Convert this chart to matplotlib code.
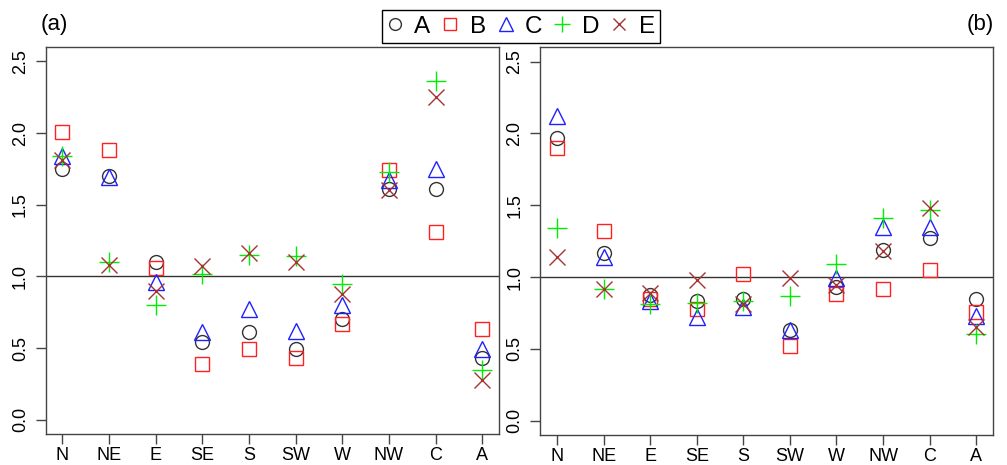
import numpy as np
import matplotlib
matplotlib.use("Agg")
import matplotlib.pyplot as plt

plt.rcParams["font.family"] = ["Liberation Sans", "DejaVu Sans"]

sites = ["N", "NE", "E", "SE", "S", "SW", "W", "NW", "C", "A"]
series = ["A", "B", "C", "D", "E"]

# panel (a)
a_A = [1.75, 1.70, 1.10, 0.54, 0.61, 0.49, 0.70, 1.61, 1.61, 0.43]
a_B = [2.01, 1.88, 1.06, 0.39, 0.49, 0.43, 0.67, 1.74, 1.31, 0.63]
a_C = [1.84, 1.69, 0.96, 0.61, 0.77, 0.62, 0.80, 1.67, 1.75, 0.49]
a_D = [1.84, 1.10, 0.80, 1.02, 1.15, 1.14, 0.95, 1.73, 2.36, 0.35]
a_E = [1.81, 1.08, 0.90, 1.07, 1.16, 1.10, 0.88, 1.60, 2.25, 0.28]

# panel (b)
b_A = [1.97, 1.17, 0.875, 0.83, 0.85, 0.63, 0.93, 1.19, 1.27, 0.85]
b_B = [1.90, 1.32, 0.85, 0.78, 1.02, 0.52, 0.88, 0.915, 1.05, 0.755]
b_C = [2.12, 1.14, 0.83, 0.72, 0.79, 0.63, 0.99, 1.35, 1.35, 0.73]
b_D = [1.34, 0.92, 0.81, 0.82, 0.83, 0.87, 1.09, 1.41, 1.47, 0.60]
b_E = [1.14, 0.915, 0.89, 0.98, 0.815, 0.99, 0.945, 1.18, 1.48, 0.65]

colors = ["#333333", "#ff2020", "#2020ff", "#00ee00", "#a83232"]
markers = ["o", "s", "^", "+", "x"]
msizes = [10, 10, 12, 14, 11]

fig = plt.figure(figsize=(10.07, 4.65), dpi=100)
ax1 = fig.add_axes([0.0452, 0.0667, 0.4503, 0.832])
ax2 = fig.add_axes([0.5365, 0.0645, 0.4496, 0.834])

x = np.arange(1, len(sites) + 1)
handles = []
for ax, data in [(ax1, [a_A, a_B, a_C, a_D, a_E]),
                 (ax2, [b_A, b_B, b_C, b_D, b_E])]:
    ax.axhline(1.0, color="#333333", lw=1.0, zorder=1)
    hs = []
    for vals, c, m, ms, name in zip(data, colors, markers, msizes, series):
        h, = ax.plot(x, vals, ls="none", marker=m, ms=ms, mfc="none", mec=c,
                     mew=1.0, label=name, zorder=3)
        hs.append(h)
    handles = hs
    ax.set_xlim(0.64, 10.36)
    ax.set_ylim(-0.1, 2.6)
    ax.set_xticks(x)
    ax.set_xticklabels(sites)
    ax.set_yticks([0.0, 0.5, 1.0, 1.5, 2.0, 2.5])
    ax.set_yticklabels(["0.0", "0.5", "1.0", "1.5", "2.0", "2.5"],
                       rotation=90, va="center")
    ax.tick_params(axis="both", labelsize=13, length=7, width=1.0,
                   color="#444444")
    ax.tick_params(axis="x", pad=2.5)
    ax.tick_params(axis="y", pad=5)
    for s in ax.spines.values():
        s.set_color("#444444")
        s.set_linewidth(1.0)

fig.text(0.040, 0.948, "(a)", fontsize=16, ha="left", va="center")
fig.text(0.987, 0.948, "(b)", fontsize=16, ha="right", va="center")

leg = fig.legend(handles=handles, labels=series, loc="center",
                 bbox_to_anchor=(0.5175, 0.943), ncol=5, fontsize=17.5,
                 frameon=True, fancybox=False, edgecolor="black",
                 framealpha=1, handlelength=0.6, handletextpad=0.5,
                 columnspacing=0.52, borderpad=0.22, borderaxespad=0,
                 markerscale=0.85)
leg.get_frame().set_linewidth(1.0)
leg.set_zorder(10)

fig.savefig("out.png", dpi=100)
